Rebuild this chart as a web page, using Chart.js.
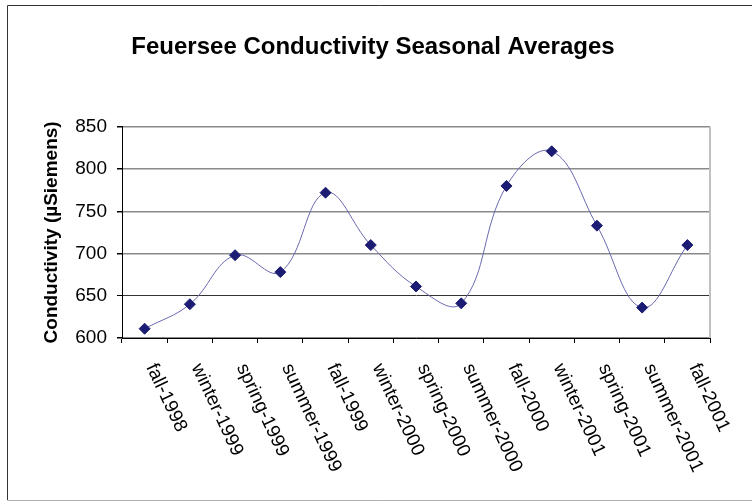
<!DOCTYPE html>
<html>
<head>
<meta charset="utf-8">
<script src="https://cdn.jsdelivr.net/npm/chart.js@4/dist/chart.umd.min.js"></script>
<style>
  body { margin: 0; background: #fff; }
  canvas { display: block; }
</style>
</head>
<body>
<canvas id="chart" width="752" height="502"></canvas>
<script>
const seasons = [
  'fall-1998', 'winter-1999', 'spring-1999', 'summer-1999', 'fall-1999',
  'winter-2000', 'spring-2000', 'summer-2000', 'fall-2000', 'winter-2001',
  'spring-2001', 'summer-2001', 'fall-2001'
];
const conductivity = [611, 640, 698, 678, 772, 710, 661, 641, 780, 821, 733, 636, 710];
const yMin = 600;
const yMax = 850;
const yStep = 50;

const FONT = '"Liberation Sans", Arial, sans-serif';

// white background + frame round the whole chart
const framePlugin = {
  id: 'frame',
  beforeDraw(chart) {
    const ctx = chart.ctx;
    ctx.save();
    ctx.fillStyle = '#fff';
    ctx.fillRect(0, 0, chart.width, chart.height);
    ctx.lineWidth = 1;
    ctx.strokeStyle = '#333';
    ctx.beginPath();
    ctx.moveTo(7.5, chart.height - 2);
    ctx.lineTo(7.5, 5.5);
    ctx.lineTo(chart.width, 5.5);
    ctx.stroke();
    ctx.strokeStyle = '#b0b0b0';
    ctx.beginPath();
    ctx.moveTo(7.5, chart.height - 1.5);
    ctx.lineTo(chart.width, chart.height - 1.5);
    ctx.stroke();
    ctx.restore();
  }
};

// right edge of plot area and the clockwise-rotated category labels
const axisPlugin = {
  id: 'axisExtras',
  beforeDatasetsDraw(chart) {
    const { ctx, chartArea } = chart;
    ctx.save();
    ctx.strokeStyle = '#c0c0c0';
    ctx.lineWidth = 2;
    ctx.beginPath();
    ctx.moveTo(chartArea.right, chartArea.top);
    ctx.lineTo(chartArea.right, chartArea.bottom);
    ctx.stroke();
    ctx.restore();
  },
  afterDraw(chart) {
    const { ctx } = chart;
    const x = chart.scales.x;
    ctx.save();
    ctx.font = '19px ' + FONT;
    ctx.fillStyle = '#000';
    ctx.textAlign = 'left';
    ctx.textBaseline = 'alphabetic';
    seasons.forEach((label, i) => {
      const px = x.getPixelForValue(i);
      ctx.save();
      ctx.translate(px + 1.5, x.top + 29);
      ctx.rotate(65 * Math.PI / 180);
      ctx.fillText(label, 0, 0);
      ctx.restore();
    });
    ctx.restore();
  }
};

new Chart(document.getElementById('chart'), {
  type: 'line',
  data: {
    labels: seasons,
    datasets: [{
      data: conductivity,
      borderColor: '#6a6ab0',
      borderWidth: 1,
      tension: 0.4,
      fill: false,
      pointStyle: 'rectRot',
      pointRadius: 5.5,
      pointHoverRadius: 5.5,
      pointBackgroundColor: '#1c1c74',
      pointBorderColor: '#1c1c74',
      pointBorderWidth: 1
    }]
  },
  options: {
    responsive: false,
    animation: false,
    layout: { padding: { left: 36, right: 42, top: 0, bottom: 0 } },
    plugins: {
      legend: { display: false },
      tooltip: { enabled: false },
      title: {
        display: true,
        text: 'Feuersee Conductivity Seasonal Averages',
        color: '#000',
        font: { family: FONT, size: 24, weight: 'bold' },
        padding: { top: 33, bottom: 65 }
      }
    },
    scales: {
      x: {
        type: 'category',
        offset: true,
        afterFit(s) { s.height = 164; },
        ticks: { display: false },
        grid: {
          offset: true,
          drawOnChartArea: false,
          drawTicks: true,
          tickLength: 5,
          tickColor: '#000',
          color: '#000'
        },
        border: { display: true, color: '#000', width: 1 }
      },
      y: {
        min: yMin,
        max: yMax,
        afterFit(s) { s.width = 86; },
        ticks: {
          stepSize: yStep,
          color: '#000',
          padding: 10,
          font: { family: FONT, size: 19 }
        },
        grid: {
          color: (c) => c.tick && c.tick.value === 650 ? '#333' : '#8a8a8a',
          lineWidth: (c) => c.tick && c.tick.value === 650 ? 1 : 1.5,
          tickLength: 5,
          tickColor: '#000'
        },
        border: { display: true, color: '#000', width: 1 },
        title: {
          display: true,
          text: 'Conductivity (µSiemens)',
          color: '#000',
          font: { family: FONT, size: 19, weight: 'bold' },
          padding: { top: 4, bottom: 0 }
        }
      }
    }
  },
  plugins: [framePlugin, axisPlugin]
});
</script>
</body>
</html>
